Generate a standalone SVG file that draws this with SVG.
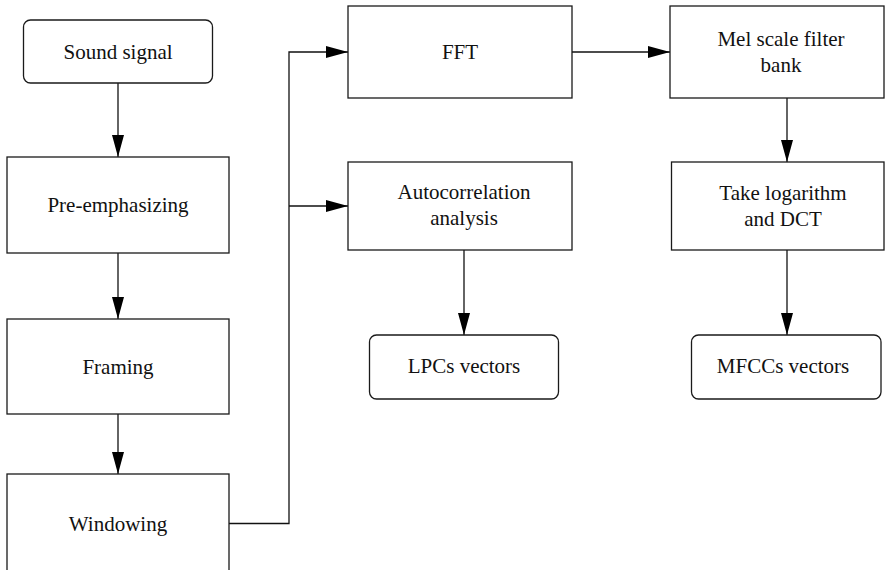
<svg xmlns="http://www.w3.org/2000/svg" width="886" height="570" viewBox="0 0 886 570">
<style>
.box{fill:#fff;stroke:#1a1a1a;stroke-width:1.3}
.lbl{font-family:'Liberation Serif','Times New Roman',Times,serif;font-size:21px;fill:#111;text-anchor:middle}
.conn{fill:none;stroke:#111;stroke-width:1.3}
</style>
<defs>
<marker id="ah" markerUnits="userSpaceOnUse" markerWidth="23" markerHeight="12" refX="22" refY="6" orient="auto">
<path d="M0,0 L22,6 L0,12 z" fill="#000"/>
</marker>
</defs>
<rect width="886" height="570" fill="#fff"/>
<g id="connectors">
<line class="conn" x1="118" y1="83" x2="118" y2="157" marker-end="url(#ah)"/>
<line class="conn" x1="118" y1="253" x2="118" y2="319" marker-end="url(#ah)"/>
<line class="conn" x1="118" y1="414" x2="118" y2="474" marker-end="url(#ah)"/>
<polyline class="conn" points="229,523.5 289,523.5 289,52 348,52" marker-end="url(#ah)"/>
<line class="conn" x1="289" y1="206" x2="348" y2="206" marker-end="url(#ah)"/>
<line class="conn" x1="572" y1="52" x2="670" y2="52" marker-end="url(#ah)"/>
<line class="conn" x1="464" y1="250" x2="464" y2="335" marker-end="url(#ah)"/>
<line class="conn" x1="787" y1="98" x2="787" y2="162" marker-end="url(#ah)"/>
<line class="conn" x1="787" y1="250" x2="787" y2="335" marker-end="url(#ah)"/>
</g>
<g id="sound-signal">
<rect class="box" x="23.5" y="20" width="189" height="63" rx="7"/>
<text class="lbl" x="118" y="59">Sound signal</text>
</g>
<g id="pre-emphasizing">
<rect class="box" x="7" y="157" width="222" height="96"/>
<text class="lbl" x="118" y="212">Pre-emphasizing</text>
</g>
<g id="framing">
<rect class="box" x="7" y="319" width="222" height="95"/>
<text class="lbl" x="118" y="374">Framing</text>
</g>
<g id="windowing">
<rect class="box" x="7" y="474" width="222" height="98"/>
<text class="lbl" x="118" y="531">Windowing</text>
</g>
<g id="fft">
<rect class="box" x="348" y="6" width="224" height="92"/>
<text class="lbl" x="460" y="59">FFT</text>
</g>
<g id="autocorrelation">
<rect class="box" x="348" y="162" width="224" height="88"/>
<text class="lbl" x="464" y="199">Autocorrelation</text>
<text class="lbl" x="464" y="225">analysis</text>
</g>
<g id="lpcs">
<rect class="box" x="369.5" y="335" width="189" height="64" rx="7"/>
<text class="lbl" x="464" y="373">LPCs vectors</text>
</g>
<g id="mel">
<rect class="box" x="670" y="6" width="214" height="92"/>
<text class="lbl" x="781" y="46">Mel scale filter</text>
<text class="lbl" x="781" y="72">bank</text>
</g>
<g id="log-dct">
<rect class="box" x="671.5" y="162" width="212.5" height="88"/>
<text class="lbl" x="783" y="200">Take logarithm</text>
<text class="lbl" x="783" y="226">and DCT</text>
</g>
<g id="mfccs">
<rect class="box" x="691.5" y="335" width="189.5" height="64" rx="7"/>
<text class="lbl" x="783" y="373">MFCCs vectors</text>
</g>
</svg>
